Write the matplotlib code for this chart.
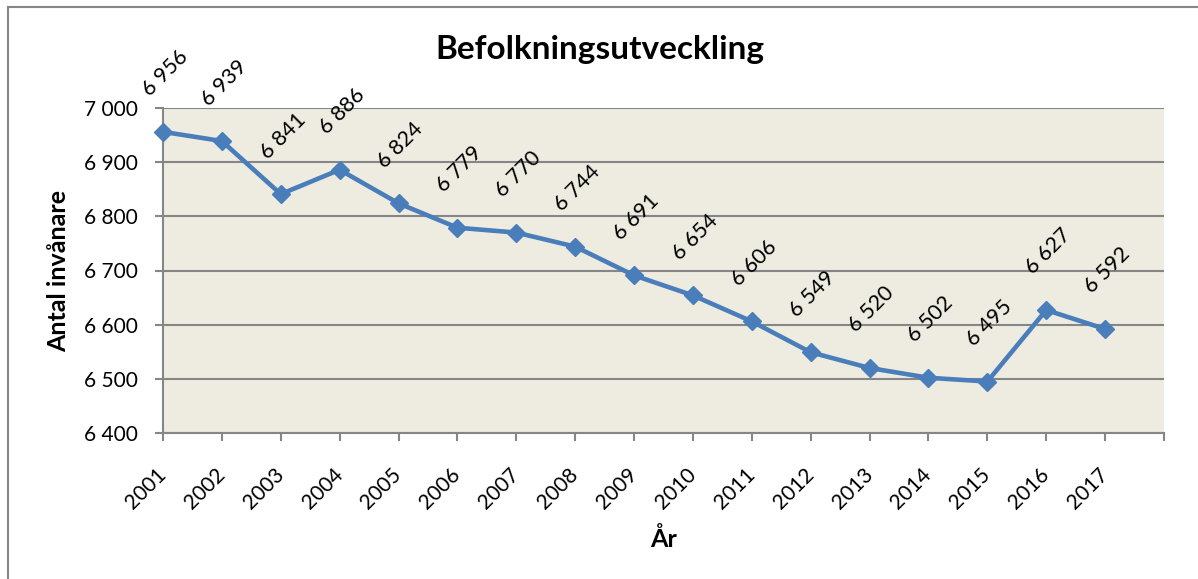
import matplotlib
matplotlib.use("Agg")
import matplotlib.pyplot as plt
from matplotlib.lines import Line2D

years = ["2001", "2002", "2003", "2004", "2005", "2006", "2007", "2008", "2009",
         "2010", "2011", "2012", "2013", "2014", "2015", "2016", "2017"]
population = [6956, 6939, 6841, 6886, 6824, 6779, 6770, 6744, 6691,
              6654, 6606, 6549, 6520, 6502, 6495, 6627, 6592]
y_ticks = [6400, 6500, 6600, 6700, 6800, 6900, 7000]

def fmt(v):
    return f"{v:,}".replace(",", " ")

plt.rcParams['font.family'] = ['Lato', 'DejaVu Sans']

fig = plt.figure(figsize=(11.98, 5.79), dpi=100)
ax = fig.add_axes([163/1198, 1-433/579, (1164-163)/1198, (433-108)/579])
ax.set_facecolor("#EEECE1")

x = list(range(len(years)))
ax.plot(x, population, color="#4A7EBB", linewidth=3.3, marker="D", markersize=9.5,
        markerfacecolor="#4A7EBB", markeredgecolor="#4A7EBB", zorder=3, clip_on=False)

for xi, v in zip(x, population):
    ax.annotate(fmt(v), (xi, v), xytext=(1.5, 42), textcoords="offset points",
                ha="center", va="center", rotation=45, rotation_mode="anchor",
                fontsize=15.5, color="black", annotation_clip=False)

ax.set_xlim(0, len(years))
ax.set_ylim(6400, 7000)
ax.set_yticks(y_ticks)
ax.set_yticklabels([fmt(v) for v in y_ticks], fontsize=15)
ax.set_xticks(range(len(years) + 1))
ax.set_xticklabels(years + [""], rotation=45, ha="right", va="center",
                   rotation_mode="anchor", fontsize=15)

ax.grid(axis="y", color="#868686", linewidth=1.5)
ax.set_axisbelow(True)
for s in ["top", "right"]:
    ax.spines[s].set_visible(False)
for s in ["left", "bottom"]:
    ax.spines[s].set_color("#868686")
    ax.spines[s].set_linewidth(1.5)
ax.tick_params(axis="x", direction="out", length=6, width=1.5, color="#868686", pad=22)
ax.tick_params(axis="y", direction="out", length=6, width=1.5, color="#868686", pad=12)

ax.set_ylabel("Antal invånare", fontsize=18, fontweight="bold", labelpad=10)
ax.set_xlabel("År", fontsize=18, fontweight="bold", labelpad=10)
fig.text(600/1198, 1-50/579, "Befolkningsutveckling", ha="center", va="center",
         fontsize=24, fontweight="bold")

fig.add_artist(Line2D([8/1198, 1], [1-7/579, 1-7/579], color="#868686", linewidth=1.5,
                      transform=fig.transFigure))
fig.add_artist(Line2D([8/1198, 8/1198], [0, 1-7/579], color="#868686", linewidth=1.5,
                      transform=fig.transFigure))

fig.savefig("out.png", dpi=100)
